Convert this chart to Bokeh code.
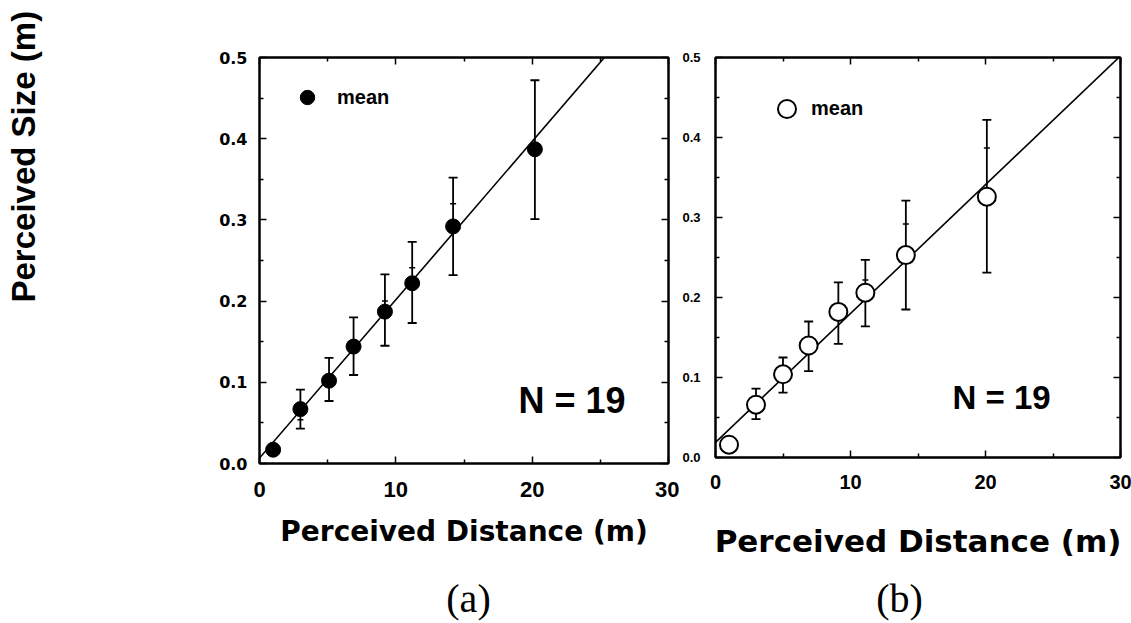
import numpy as np
from bokeh.plotting import figure
from bokeh.layouts import row, column
from bokeh.models import (ColumnDataSource, Whisker, TeeHead, LinearAxis, FixedTicker,
                          Range1d, Label, Legend, LegendItem, Title)
from bokeh.embed import file_html
from bokeh.resources import INLINE

# ---------------- data ----------------
x_ticks = [0, 10, 20, 30]
x_tick_labels = ["0", "10", "20", "30"]
x_minor = [5, 15, 25]
y_ticks = [0.0, 0.1, 0.2, 0.3, 0.4, 0.5]
y_tick_labels = ["0.0", "0.1", "0.2", "0.3", "0.4", "0.5"]
y_minor = [0.05, 0.15, 0.25, 0.35, 0.45]

# panel (a)
dist_a = [1.0, 3.0, 5.1, 6.9, 9.2, 11.2, 14.2, 20.2]
size_a = [0.017, 0.067, 0.102, 0.144, 0.187, 0.222, 0.292, 0.387]
upper_a = [0.017, 0.091, 0.130, 0.180, 0.233, 0.273, 0.352, 0.472]
lower_a = [0.017, 0.043, 0.077, 0.109, 0.145, 0.173, 0.232, 0.301]
mark_x_a = [3.0, 9.2, 11.2, 14.2]
mark_y_a = [0.054, 0.200, 0.241, 0.320]
fit_a = [0.0067, 0.0195]  # intercept, slope

# panel (b)
dist_b = [1.0, 3.0, 5.0, 6.9, 9.1, 11.1, 14.1, 20.1]
size_b = [0.016, 0.066, 0.104, 0.140, 0.182, 0.206, 0.253, 0.326]
upper_b = [0.016, 0.086, 0.125, 0.170, 0.219, 0.247, 0.321, 0.422]
lower_b = [0.016, 0.048, 0.081, 0.108, 0.142, 0.164, 0.185, 0.231]
mark_x_b = [11.1, 14.1, 20.1]
mark_y_b = [0.222, 0.292, 0.387]
fit_b = [0.019, 0.0161]

n_label = "N = 19"
legend_label = "mean"
x_title = "Perceived Distance (m)"
y_title = "Perceived Size (m)"
panel_tags = ["(a)", "(b)"]


def style_axis(ax, ticks, minor, labels, font, size, standoff, show_labels=True):
    ax.ticker = FixedTicker(ticks=ticks, minor_ticks=minor)
    if show_labels:
        ax.major_label_overrides = {t: l for t, l in zip(ticks, labels)}
    else:
        ax.major_label_overrides = {t: "" for t in ticks}
    ax.axis_line_width = 2
    ax.axis_line_color = "black"
    ax.major_tick_in = 7
    ax.major_tick_out = 0
    ax.minor_tick_in = 4
    ax.minor_tick_out = 0
    ax.major_tick_line_width = 1.5
    ax.minor_tick_line_width = 1.5
    ax.major_tick_line_color = "black"
    ax.minor_tick_line_color = "black"
    ax.major_label_text_font = font
    ax.major_label_text_font_style = "bold"
    ax.major_label_text_color = "black"
    ax.major_label_text_font_size = size
    ax.major_label_standoff = standoff if show_labels else 0


def panel(dist, size, upper, lower, mx, my, fit, fw, fh, borders, filled,
          xfont, xsize, yfont, ysize, xstand, ystand, title_size, title_stand,
          n_pos, n_size, leg_loc, leg_glyph, leg_stand):
    bl, br, bt, bb = borders
    p = figure(x_range=Range1d(0, 30), y_range=Range1d(0, 0.5),
               frame_width=fw, frame_height=fh,
               min_border_left=bl, min_border_right=br,
               min_border_top=bt, min_border_bottom=bb,
               output_backend="svg", toolbar_location=None,
               background_fill_color="white", border_fill_color="white")
    p.xgrid.visible = False
    p.ygrid.visible = False
    p.outline_line_color = "black"
    p.outline_line_width = 2

    xa = p.xaxis[0]
    ya = p.yaxis[0]
    style_axis(xa, x_ticks, x_minor, x_tick_labels, xfont, xsize, xstand)
    style_axis(ya, y_ticks, y_minor, y_tick_labels, yfont, ysize, ystand)
    xa.axis_label = x_title
    xa.axis_label_text_font = "DejaVu Sans"
    xa.axis_label_text_font_style = "bold"
    xa.axis_label_text_font_size = title_size
    xa.axis_label_standoff = title_stand
    xa.axis_label_text_color = "black"

    top = LinearAxis()
    right = LinearAxis()
    style_axis(top, x_ticks, x_minor, x_tick_labels, xfont, "10px", 0, False)
    style_axis(right, y_ticks, y_minor, y_tick_labels, yfont, "10px", 0, False)
    p.add_layout(top, "above")
    p.add_layout(right, "right")

    # regression line across the x range
    xr = np.array([p.x_range.start, p.x_range.end], dtype=float)
    p.line(xr, fit[0] + fit[1] * xr, line_color="black", line_width=1.6)

    # error bars (skip zero-length ones)
    up = np.array(upper); lo = np.array(lower); d = np.array(dist)
    m = up > lo
    src = ColumnDataSource(dict(base=d[m], upper=up[m], lower=lo[m]))
    w = Whisker(source=src, base="base", upper="upper", lower="lower",
                line_color="black", line_width=1.8,
                upper_head=TeeHead(size=9, line_width=1.8, line_color="black"),
                lower_head=TeeHead(size=9, line_width=1.8, line_color="black"))
    p.add_layout(w)
    p.scatter(mx, my, marker="dash", size=6, line_color="black", line_width=1.5)

    if filled:
        r = p.scatter(dist, size, size=15, fill_color="black", line_color="black")
    else:
        r = p.scatter(dist, size, size=18, fill_color="white", line_color="black",
                      line_width=2)

    leg = Legend(items=[LegendItem(label=legend_label, renderers=[r])],
                 location=leg_loc, glyph_width=leg_glyph, glyph_height=leg_glyph,
                 padding=0, margin=0, spacing=0, label_standoff=leg_stand,
                 border_line_color=None, background_fill_alpha=0,
                 label_text_font="Liberation Sans", label_text_font_style="bold",
                 label_text_font_size="20px", label_text_color="black")
    p.add_layout(leg)

    p.add_layout(Label(x=n_pos[0], y=n_pos[1], text=n_label, text_font="Liberation Sans",
                       text_font_style="bold", text_font_size=n_size,
                       text_baseline="middle", text_align="left", text_color="black"))
    return p


pa = panel(dist_a, size_a, upper_a, lower_a, mark_x_a, mark_y_a, fit_a,
           409, 406, (201, 11, 57, 112), True,
           "Liberation Sans", "22px", "DejaVu Sans", "16px", 18, 12, "28px", 15,
           (19.0, 0.078), "36px", (30, 348), 36, 12)
pb = panel(dist_b, size_b, upper_b, lower_b, mark_x_b, mark_y_b, fit_b,
           405, 400, (34, 13, 57, 118), False,
           "Liberation Sans", "20px", "Liberation Sans", "13px", 17, 15, "31px", 31,
           (17.56, 0.0754), "33px", (49, 326), 45, 2)

# narrow strip on the left that carries the shared y title
ylab = figure(width=58, height=575, x_range=Range1d(0, 1), y_range=Range1d(0, 1),
              x_axis_type=None, y_axis_type=None, title=None,
              min_border_left=41, min_border_right=0,
              min_border_top=57, min_border_bottom=112,
              output_backend="svg", toolbar_location=None, outline_line_color=None,
              background_fill_color="white", border_fill_color="white")
ylab.xgrid.visible = False
ylab.ygrid.visible = False
ytitle = Title(text=y_title, align="left", vertical_align="bottom", offset=155,
               text_font="Liberation Sans", text_font_style="bold",
               text_font_size="33px", text_color="black")
if "standoff" in Title.properties():
    ytitle.standoff = 0
ylab.add_layout(ytitle, "left")

# panel tags strip at the bottom (coordinates = page pixels)
tags = figure(width=1131, height=48, x_range=Range1d(0, 1131), y_range=Range1d(623, 575),
              x_axis_type=None, y_axis_type=None, output_backend="svg",
              toolbar_location=None, min_border=0, outline_line_color=None,
              background_fill_color="white", border_fill_color="white")
tags.xgrid.visible = False
tags.ygrid.visible = False
for tx, tag in zip([468, 899], panel_tags):
    tags.add_layout(Label(x=tx, y=598, text=tag, text_font="Liberation Serif",
                          text_font_size="40px", text_align="center",
                          text_baseline="middle", text_color="black"))

layout = column(row(ylab, pa, pb), tags)
open("out.html", "w").write(file_html(layout, INLINE))
